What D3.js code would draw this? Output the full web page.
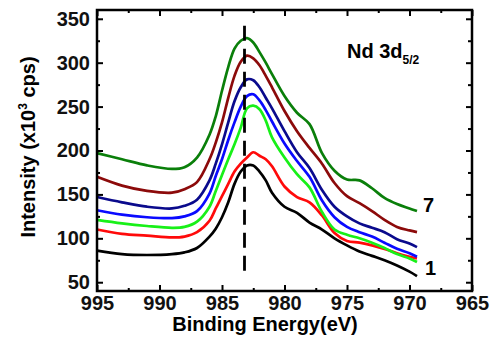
<!DOCTYPE html>
<html>
<head>
<meta charset="utf-8">
<script src="https://cdn.jsdelivr.net/npm/d3@7"></script>
<style>
  body { margin: 0; background: #fff; }
  text { font-family: "Liberation Sans", Arial, sans-serif; font-weight: bold; }
</style>
</head>
<body>
<svg id="drawing_region"></svg>
<script>
// binding energy grid (eV) shared by all spectra
const energy = [995, 993, 991, 989, 988, 987, 986, 985.5, 985, 984.5, 984, 983.5, 983, 982.5,
                982, 981.5, 981, 980, 979, 978, 977, 976, 975, 974, 973, 972, 971, 970, 969.4];

// intensities (x10^3 cps), curve 1 (bottom) to curve 7 (top)
const curve1 = [86, 82, 81, 82, 84, 89, 102, 111, 124, 141, 162, 176, 183, 183,
                176, 166, 152, 136, 129, 118, 110, 100, 92, 85, 80, 75, 69, 62, 57];
const curve2 = [110, 105, 103, 101, 102, 107, 120, 134, 148, 162, 176, 185, 192, 198,
                194, 190, 182, 159, 147, 141, 126, 106, 97, 95, 92, 88, 83, 79, 77];
const curve3 = [121, 117, 114, 112, 113, 119, 136, 154, 172, 190, 207, 226, 248, 251,
                247, 234, 215, 192, 173, 158, 130, 110, 104, 100, 95, 89, 82, 77, 73];
const curve4 = [132, 127, 124, 123, 125, 131, 151, 171, 190, 212, 232, 250, 262, 264,
                257, 246, 233, 208, 188, 170, 143, 124, 113, 107, 102, 95, 88, 83, 79];
const curve5 = [147, 141, 136, 134, 137, 144, 166, 185, 207, 232, 256, 272, 281, 280,
                272, 260, 248, 222, 198, 180, 155, 136, 125, 117, 112, 107, 99, 94, 90];
const curve6 = [170, 160, 154, 152, 156, 164, 190, 209, 232, 260, 285, 301, 308, 305,
                297, 285, 272, 245, 222, 203, 185, 163, 148, 140, 131, 121, 113, 109, 107];
const curve7 = [197, 190, 183, 179, 181, 192, 218, 239, 268, 295, 316, 325, 328, 323,
                312, 300, 287, 262, 243, 230, 197, 177, 167, 166, 157, 146, 139, 134, 131];

const curves = [curve1, curve2, curve3, curve4, curve5, curve6, curve7];
const colors = ['#000000', '#ff0a0a', '#18f018', '#0a0aff', '#0a0a8c', '#8c0a0a', '#0a7f0a'];

const xTicks = [995, 990, 985, 980, 975, 970, 965];
const yTicks = [50, 100, 150, 200, 250, 300, 350];
const peakEnergy = 983.2;   // dashed marker
const peakRange = [55, 342];

var config = {
    parent: '#drawing_region',
    width: 494,
    height: 337,
    margin: {top: 10, right: 22, bottom: 46, left: 97}
};

class SpectraChart {

    constructor(config, curves) {
        this.config = config;
        this.curves = curves;
        this.init();
    }

    init() {
        let self = this;

        self.svg = d3.select(self.config.parent)
            .attr('width', self.config.width)
            .attr('height', self.config.height);

        self.chart = self.svg.append('g')
            .attr('transform', `translate(${self.config.margin.left}, ${self.config.margin.top})`);

        self.inner_width = self.config.width - self.config.margin.left - self.config.margin.right;
        self.inner_height = self.config.height - self.config.margin.top - self.config.margin.bottom;

        self.xscale = d3.scaleLinear()
            .domain([995, 965])
            .range([0, self.inner_width]);

        self.yscale = d3.scaleLinear()
            .domain([40, 360])
            .range([self.inner_height, 0]);
    }

    render() {
        let self = this;

        const line = d3.line()
            .x((d, i) => self.xscale(energy[i]))
            .y(d => self.yscale(d))
            .curve(d3.curveCatmullRom.alpha(0.5));

        self.chart.selectAll('.spectrum')
            .data(self.curves)
            .join('path')
            .attr('class', 'spectrum')
            .attr('d', d => line(d))
            .attr('fill', 'none')
            .attr('stroke', (d, i) => colors[i])
            .attr('stroke-width', 2.7)
            .attr('stroke-linejoin', 'round');

        // dashed peak marker
        self.chart.append('line')
            .attr('x1', self.xscale(peakEnergy))
            .attr('x2', self.xscale(peakEnergy))
            .attr('y1', self.yscale(peakRange[1]))
            .attr('y2', self.yscale(peakRange[0]))
            .attr('stroke', 'black')
            .attr('stroke-width', 2.8)
            .attr('stroke-dasharray', '15,8');

        const xMinor = d3.range(995, 964, -2.5).filter(v => v % 5 !== 0);
        const yMinor = d3.range(50, 360, 25).filter(v => v % 50 !== 0);

        const axes = [
            {axis: d3.axisBottom(self.xscale).tickValues(xTicks).tickSize(-6).tickPadding(5), y: self.inner_height},
            {axis: d3.axisBottom(self.xscale).tickValues(xMinor).tickSize(-3).tickFormat(''), y: self.inner_height},
            {axis: d3.axisTop(self.xscale).tickValues(xTicks).tickSize(-6).tickFormat(''), y: 0},
            {axis: d3.axisTop(self.xscale).tickValues(xMinor).tickSize(-3).tickFormat(''), y: 0},
            {axis: d3.axisLeft(self.yscale).tickValues(yTicks).tickSize(-6).tickPadding(7), x: 0},
            {axis: d3.axisLeft(self.yscale).tickValues(yMinor).tickSize(-3).tickFormat(''), x: 0},
            {axis: d3.axisRight(self.yscale).tickValues(yTicks).tickSize(-6).tickFormat(''), x: self.inner_width},
            {axis: d3.axisRight(self.yscale).tickValues(yMinor).tickSize(-4).tickFormat(''), x: self.inner_width}
        ];

        axes.forEach(a => {
            const g = self.chart.append('g')
                .attr('transform', `translate(${a.x || 0}, ${a.y || 0})`)
                .call(a.axis.tickSizeOuter(0));
            g.select('.domain').remove();
            g.selectAll('line').attr('stroke', 'black').attr('stroke-width', 2);
            g.selectAll('text')
                .attr('font-size', 20)
                .attr('font-family', '"Liberation Sans", Arial, sans-serif')
                .attr('font-weight', 'bold')
                .attr('fill', '#111');
        });

        // frame
        self.chart.append('rect')
            .attr('width', self.inner_width)
            .attr('height', self.inner_height)
            .attr('fill', 'none')
            .attr('stroke', 'black')
            .attr('stroke-width', 2.5);

        // axis titles
        self.svg.append('text')
            .attr('x', 265)
            .attr('y', 331)
            .attr('text-anchor', 'middle')
            .attr('font-size', 20)
            .text('Binding Energy(eV)');

        const ytitle = self.svg.append('text')
            .attr('transform', 'translate(35, 147) rotate(-90)')
            .attr('text-anchor', 'middle')
            .attr('font-size', 20);
        ytitle.append('tspan').text('Intensity (x10');
        ytitle.append('tspan').attr('font-size', 12).attr('dy', -8).text('3');
        ytitle.append('tspan').attr('dy', 8).text(' cps)');

        // annotations
        const nd = self.svg.append('text')
            .attr('x', 347)
            .attr('y', 58)
            .attr('font-size', 20);
        nd.append('tspan').text('Nd 3d');
        nd.append('tspan').attr('font-size', 12).attr('dy', 6).text('5/2');

        self.svg.append('text')
            .attr('x', 423).attr('y', 212)
            .attr('font-size', 20)
            .text('7');

        self.svg.append('text')
            .attr('x', 425).attr('y', 275)
            .attr('font-size', 20)
            .text('1');
    }
}

const chart = new SpectraChart(config, curves);
chart.render();
</script>
</body>
</html>
